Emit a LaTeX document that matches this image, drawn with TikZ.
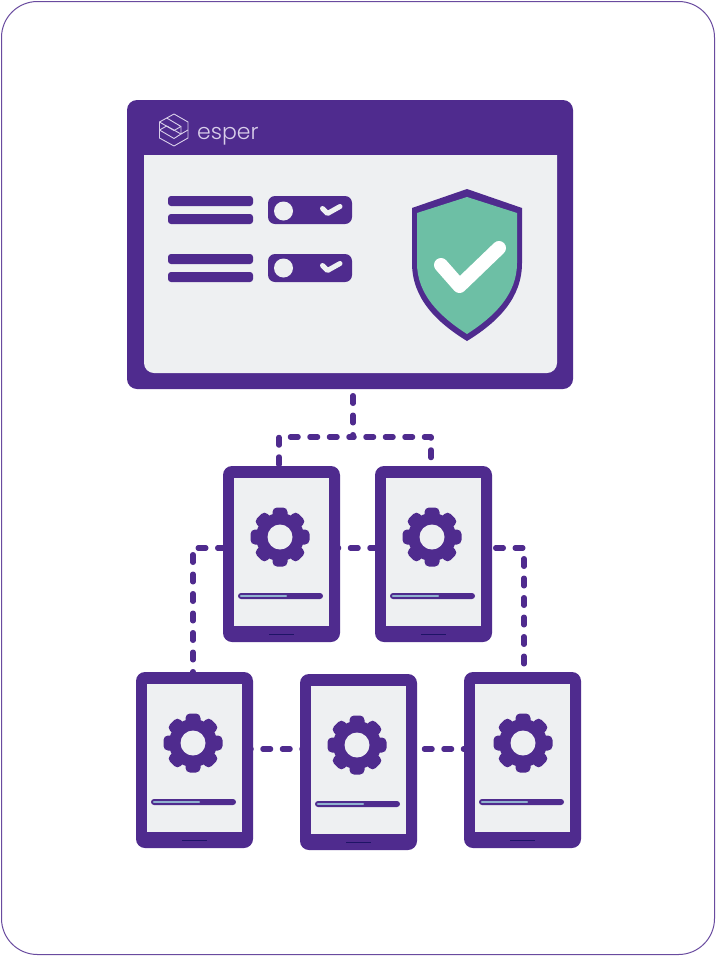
\documentclass[tikz,border=0pt]{standalone}
\usepackage{fontspec}
\newfontfamily\esperfont{Poppins}[UprightFont=* Light]
\definecolor{esp}{HTML}{4F2B8E}
\definecolor{scr}{HTML}{EEF0F2}
\definecolor{teal}{HTML}{6DBFA5}
\definecolor{prog}{HTML}{8FB2CF}
\definecolor{spk}{HTML}{1E1466}
\definecolor{logo}{HTML}{D9CFEA}
\tikzset{
  x=1pt,y=-1pt,
  phonebody/.style={rectangle,fill=esp,rounded corners=9,minimum width=117,minimum height=176,inner sep=0,line width=0},
  link/.style={draw=esp,line width=5.5,line cap=round,dash pattern=on 7.5 off 12,line join=round},
  bar/.style={fill=esp,rounded corners=3},
}
% name, left, top, gear centre relative to the left edge
\newcommand{\phonedev}[4]{%
  \node[phonebody] (#1) at (#2+58.5,#3+88) {};
  \fill[scr] (#2+11,#3+12) rectangle (#2+106,#3+160);
  \foreach \a in {0,45,...,315}
    \fill[esp,rotate around={\a:(#2+#4,#3+71)},rounded corners=4.5] (#2+#4-7.5,#3+41.5) rectangle (#2+#4+7.5,#3+71);
  \fill[esp] (#2+#4,#3+71) circle (24);
  \fill[scr] (#2+#4,#3+71) circle (12.5);
  \fill[esp,rounded corners=3] (#2+15,#3+127) rectangle (#2+100,#3+133);
  \draw[prog,line width=2.4,line cap=round] (#2+18,#3+130) -- (#2+63,#3+130);
  \draw[spk,line width=1.6] (#2+46,#3+168.5) -- (#2+71,#3+168.5);
}
\begin{document}
\begin{tikzpicture}
\useasboundingbox (0,0) rectangle (716,956);
\fill[white] (0,0) rectangle (716,956);
\draw[draw=esp!85!white,line width=1,rounded corners=36] (1.5,1.5) rectangle (714.5,954.5);

% window
\node[fill=esp,rounded corners=10,minimum width=446,minimum height=289,inner sep=0,line width=0] (win) at (350,244.5) {};
\fill[scr] (144,155) [rounded corners=10] -- (144,373) -- (557,373) [sharp corners] -- (557,155) -- cycle;

% logo
\begin{scope}[draw=logo,line width=0.9,line join=round]
\draw (174,114) -- (188,122) -- (188,138) -- (174,146) -- (159.5,138) -- (159.5,122) -- cycle;
\draw (166.7,118) -- (181,126.5) -- (174,130.5) -- (159.5,122);
\draw (181,126.5) -- (181,134) -- (188,130);
\draw (159.5,130) -- (166.7,126) -- (181,134) -- (174,138.5) -- (159.5,130);
\end{scope}
\node[anchor=base west,inner sep=0,text=logo,font=\esperfont\fontsize{22}{22}\selectfont] (brand) at (197,139) {esper};

% lists and toggles
\fill[bar] (168,196) rectangle (253,206);
\fill[bar] (168,214) rectangle (253,224);
\fill[bar] (168,254) rectangle (253,264);
\fill[bar] (168,272) rectangle (253,282);
\fill[esp,rounded corners=7] (268,196) rectangle (352,224);
\fill[esp,rounded corners=7] (268,254) rectangle (352,282);
\fill[scr] (283.5,211) circle (9.5);
\fill[scr] (283.5,268) circle (9.5);
\draw[scr,line width=5,line cap=round,line join=round] (322.5,208.5) -- (327.5,213.5) -- (340,206.5);
\draw[scr,line width=5,line cap=round,line join=round] (322.5,265.5) -- (327.5,270.5) -- (340,263.5);

% shield
\fill[esp] (467,189) -- (522,208) -- (522,263) .. controls (522,298) and (498,322) .. (467,341) .. controls (436,322) and (412,298) .. (412,263) -- (412,208) -- cycle;
\fill[teal] (467,197) -- (517,213) -- (517,263) .. controls (517,294) and (495,316) .. (467,334) .. controls (439,316) and (417,294) .. (417,263) -- (417,213) -- cycle;
\draw[white,line width=14,line cap=round,line join=round] (441,265) -- (459.5,286) -- (499,248);

% phones
\phonedev{p1}{223}{466}{57}
\phonedev{p2}{375}{466}{57}
\phonedev{p3}{136}{672}{57}
\phonedev{p4}{300}{674}{57}
\phonedev{p5}{464}{672}{59}

% connectors
\coordinate (junction) at (353,437);
\draw[link,dash phase=12.75] (353,389) -- (junction);
\draw[link,dash phase=3.5] (junction) -| (p1.north -| 279,0);
\draw[link,dash phase=6.5] (junction) -| (p2.north -| 431,0);
\draw[link,dash phase=2.25] (p1.west |- 0,548) -| (p3.north -| 193,0);
\draw[link,dash phase=6] (p1.east |- 0,548) ++(-3,0) -- (p2.west |- 0,548);
\draw[link,dash phase=15.75] (p2.east |- 0,548) -| (p5.north -| 524,0);
\draw[link,dash phase=6.5] (p3.east |- 0,749) ++(-3,0) -- (p4.west |- 0,749) -- ++(4,0);
\draw[link,dash phase=12] (p4.east |- 0,749) -- (p5.west |- 0,749) -- ++(4,0);
\end{tikzpicture}
\end{document}
